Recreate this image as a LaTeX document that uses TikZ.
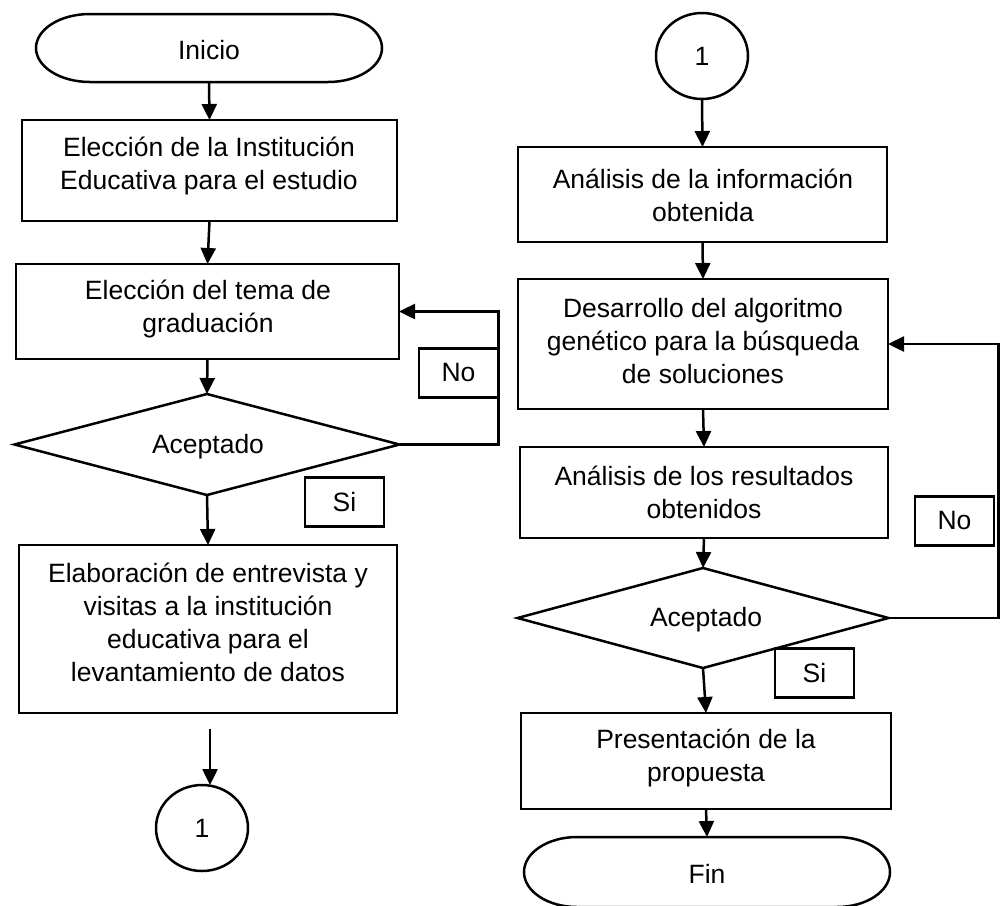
\documentclass[tikz,border=0pt]{standalone}
\usepackage{fontspec}
\setmainfont{Liberation Sans}
\usetikzlibrary{shapes.geometric,arrows.meta}
\begin{document}
\begin{tikzpicture}[x=1pt,y=-1pt,
  line width=2.5pt,
  every node/.style={font=\fontsize{26.5pt}{33pt}\selectfont, inner sep=0pt, outer sep=0pt},
  box/.style={draw, rectangle},
  term/.style={rectangle},
  dec/.style={draw, diamond},
  con/.style={draw, ellipse, minimum width=92pt, minimum height=86pt},
  txt/.style={align=center},
  lbl/.style={draw, rectangle, minimum width=79pt, minimum height=49pt},
  arr/.style={-{Triangle[length=16pt,width=15pt]}},
]
\useasboundingbox (0,0) rectangle (1000,905);

% ---------- left column ----------
\node[term, minimum width=346pt, minimum height=68pt] (ini) at (209,48) {};
\node (tini) at (209,50) {Inicio};
\draw ([xshift=54pt]ini.north west) -- ([xshift=-54pt]ini.north east)
  arc[start angle=-90, end angle=90, x radius=54, y radius=34]
  -- ([xshift=54pt]ini.south west)
  arc[start angle=90, end angle=270, x radius=54, y radius=34] -- cycle;

\node[box, minimum width=375pt, minimum height=101pt] (b1) at (209.5,170.5) {};
\node[txt] (t1) at (209,166) {Elección de la Institución\\Educativa para el estudio};

\node[box, minimum width=383pt, minimum height=95pt] (b2) at (207.5,311.5) {};
\node[txt] (t2) at (208,309) {Elección del tema de\\graduación};

\node[dec, minimum width=385pt, minimum height=101pt] (d1) at (207,444.5) {};
\node (t3) at (208,447) {Aceptado};

\node[lbl] (no1) at (458.5,373) {No};
\node[lbl] (si1) at (344.5,502) {Si};

\node[box, minimum width=378pt, minimum height=168pt] (b3) at (208,629) {};
\node[txt] (t4) at (208,622) {Elaboración de entrevista y\\visitas a la institución\\educativa para el\\levantamiento de datos};

\coordinate (c1s) at (210,729);
\node[con] (c1) at (202,828) {1};

\draw[arr] (ini.south) -- (b1.north);
\draw[arr] (b1.south) -- (b2.north);
\draw[arr] (b2.south) -- (d1.north);
\draw[arr] (d1.south) -- (b3.north);
\draw[arr] (c1s) -- (c1s |- c1.north);
\draw[arr] (d1.east) -- ++(99,0) |- (b2.east);

% ---------- right column ----------
\node[con] (c2) at (702,56) {1};

\node[box, minimum width=369pt, minimum height=95pt] (bA) at (702.5,194.5) {};
\node[txt] (tA) at (703,195) {Análisis de la información\\obtenida};

\node[box, minimum width=370pt, minimum height=130pt] (bB) at (703,344) {};
\node[txt] (tB) at (703,341) {Desarrollo del algoritmo\\genético para la búsqueda\\de soluciones};

\node[box, minimum width=368pt, minimum height=91pt] (bC) at (704,492.5) {};
\node[txt] (tC) at (704,492) {Análisis de los resultados\\obtenidos};

\node[dec, minimum width=371pt, minimum height=100pt] (d2) at (703,618) {};
\node (tD) at (706,620) {Aceptado};

\node[lbl] (no2) at (954.5,521) {No};
\node[lbl] (si2) at (814.5,673) {Si};

\node[box, minimum width=370pt, minimum height=96pt] (bD) at (706,761) {};
\node[txt] (tE) at (706,758) {Presentación de la\\propuesta};

\node[term, minimum width=366pt, minimum height=70pt] (fin) at (707,872) {};
\node (tfin) at (707,874) {Fin};
\draw ([xshift=53pt]fin.north west) -- ([xshift=-53pt]fin.north east)
  arc[start angle=-90, end angle=90, x radius=53, y radius=35]
  -- ([xshift=53pt]fin.south west)
  arc[start angle=90, end angle=270, x radius=53, y radius=35] -- cycle;

\draw[arr] (c2.south) -- (bA.north);
\draw[arr] (bA.south) -- (bB.north);
\draw[arr] (bB.south) -- (bC.north);
\draw[arr] (bC.south) -- (d2.north);
\draw[arr] (d2.south) -- (bD.north);
\draw[arr] (bD.south) -- (fin.north);
\draw[arr] (d2.east) -- ++(110,0) |- (bB.east);
\end{tikzpicture}
\end{document}
